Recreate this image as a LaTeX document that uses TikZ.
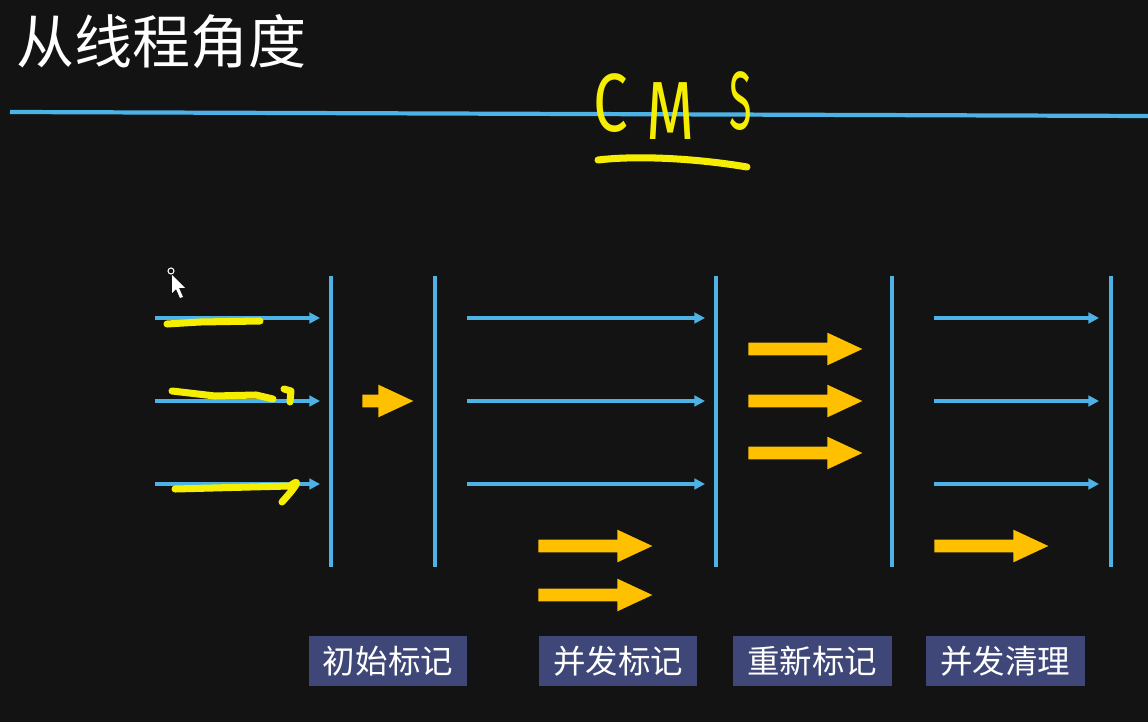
\documentclass[tikz,border=0pt]{standalone}
\usepackage{fontspec}
\usepackage{tikz}
\usetikzlibrary{positioning,arrows.meta,shapes.arrows}
\newfontfamily\cjk{Noto Sans CJK SC}
\newfontfamily\inkfont{Fira Sans}
\definecolor{boardblack}{HTML}{131313}
\definecolor{chalkblue}{HTML}{4DB3E6}
\definecolor{amber}{HTML}{FFC000}
\definecolor{inkyellow}{HTML}{F5EE00}
\definecolor{slateblue}{HTML}{3E4777}

\begin{document}
\begin{tikzpicture}[
    x=0.02cm, y=-0.02cm,
    chalkLine/.style={draw=chalkblue, line width=2.1pt},
    threadArrow/.style={draw=chalkblue, line width=1.9pt, -{Triangle[length=6pt, width=6pt]}},
    gcArrow/.style={single arrow, fill=amber, draw=none, anchor=tail, minimum height=2.28cm,
        inner xsep=0pt, inner ysep=0.12cm, single arrow head extend=0.2cm,
        single arrow tip angle=50, single arrow head indent=0pt},
    phaseBox/.style={rectangle, fill=slateblue, text=white, minimum width=3.18cm, minimum height=1cm,
        font=\cjk\fontsize{18.5}{20}\selectfont},
    inkStroke/.style={draw=inkyellow, line width=4pt, line cap=round, line join=round},
    inkLetter/.style={anchor=base, text=inkyellow, inner sep=0pt, font=\inkfont\fontsize{47}{50}\selectfont}
]
    % Board
    \useasboundingbox (0,0) rectangle (1148,722);
    \fill[boardblack] (0,0) rectangle (1148,722);

    % Title
    \node[anchor=west, inner sep=0pt, text=white, font=\cjk\fontsize{33}{36}\selectfont] (title) at (16,42) {从线程角度};

    % Top rule
    \coordinate (ruleL) at (10,112);
    \coordinate (ruleR) at (1148,116);
    \draw[chalkLine, line width=2.4pt] (ruleL) -- (ruleR);

    % Handwritten CMS
    \node[inkLetter] (cmsC) at (611,132) {\scalebox{0.75}[1]{C}};
    \node[inkLetter] (cmsM) at (671,140) {\scalebox{0.75}[1]{M}};
    \node[inkLetter] (cmsS) at (741,130) {\scalebox{0.5}[1]{S}};
    \draw[inkStroke] (598,160) .. controls (640,155) and (700,159) .. (747,167);

    % Phase bars
    \coordinate (p1t) at (331,276); \coordinate (p1b) at (331,567);
    \coordinate (p2t) at (435,276); \coordinate (p2b) at (435,567);
    \coordinate (p3t) at (716,276); \coordinate (p3b) at (716,567);
    \coordinate (p4t) at (892,276); \coordinate (p4b) at (892,567);
    \coordinate (p5t) at (1111,276); \coordinate (p5b) at (1111,567);
    \draw[chalkLine] (p1t) -- (p1b);
    \draw[chalkLine] (p2t) -- (p2b);
    \draw[chalkLine] (p3t) -- (p3b);
    \draw[chalkLine] (p4t) -- (p4b);
    \draw[chalkLine] (p5t) -- (p5b);

    % User threads before the first pause
    \coordinate (u1s) at (155,318); \coordinate (u1e) at (320,318);
    \coordinate (u2s) at (155,401); \coordinate (u2e) at (320,401);
    \coordinate (u3s) at (155,484); \coordinate (u3e) at (320,484);
    \draw[threadArrow] (u1s) -- (u1e);
    \draw[threadArrow] (u2s) -- (u2e);
    \draw[threadArrow] (u3s) -- (u3e);

    % User threads during concurrent marking
    \coordinate (c1s) at (467,318); \coordinate (c1e) at (705,318);
    \coordinate (c2s) at (467,401); \coordinate (c2e) at (705,401);
    \coordinate (c3s) at (467,484); \coordinate (c3e) at (705,484);
    \draw[threadArrow] (c1s) -- (c1e);
    \draw[threadArrow] (c2s) -- (c2e);
    \draw[threadArrow] (c3s) -- (c3e);

    % User threads during concurrent sweep
    \coordinate (s1s) at (934,318); \coordinate (s1e) at (1099,318);
    \coordinate (s2s) at (934,401); \coordinate (s2e) at (1099,401);
    \coordinate (s3s) at (934,484); \coordinate (s3e) at (1099,484);
    \draw[threadArrow] (s1s) -- (s1e);
    \draw[threadArrow] (s2s) -- (s2e);
    \draw[threadArrow] (s3s) -- (s3e);

    % GC threads
    \node[gcArrow, minimum height=1.02cm] (initGc) at (362,401) {};
    \node[gcArrow] (concGc1) at (538,546) {};
    \node[gcArrow] (concGc2) at (538,595) {};
    \node[gcArrow] (remarkGc1) at (748,349) {};
    \node[gcArrow] (remarkGc2) at (748,401) {};
    \node[gcArrow] (remarkGc3) at (748,453) {};
    \node[gcArrow] (sweepGc) at (934,546) {};

    % Yellow scribbles over the first threads
    \draw[inkStroke] (167,324) -- (200,322) -- (260,321);
    \draw[inkStroke] (172,391) -- (215,396) -- (256,395) -- (273,399);
    \draw[inkStroke] (284,389) -- (291,391) -- (290,402);
    \draw[inkStroke] (175,489) -- (250,487) -- (290,486) .. controls (299,479) and (301,481) .. (282,502);

    % Mouse pointer
    \draw[white, line width=0.6pt] (171,271) circle (3);
    \fill[white] (172,275) -- (172,293) -- (176,289) -- (180,298) -- (183,297) -- (179,288) -- (185,288) -- cycle;

    % Phase labels
    \node[phaseBox] (initMark) at (388,661) {初始标记};
    \node[phaseBox] (concMark) at (618,661) {并发标记};
    \node[phaseBox] (reMark) at (812,661) {重新标记};
    \node[phaseBox] (concSweep) at (1005,661) {并发清理};
\end{tikzpicture}
\end{document}
